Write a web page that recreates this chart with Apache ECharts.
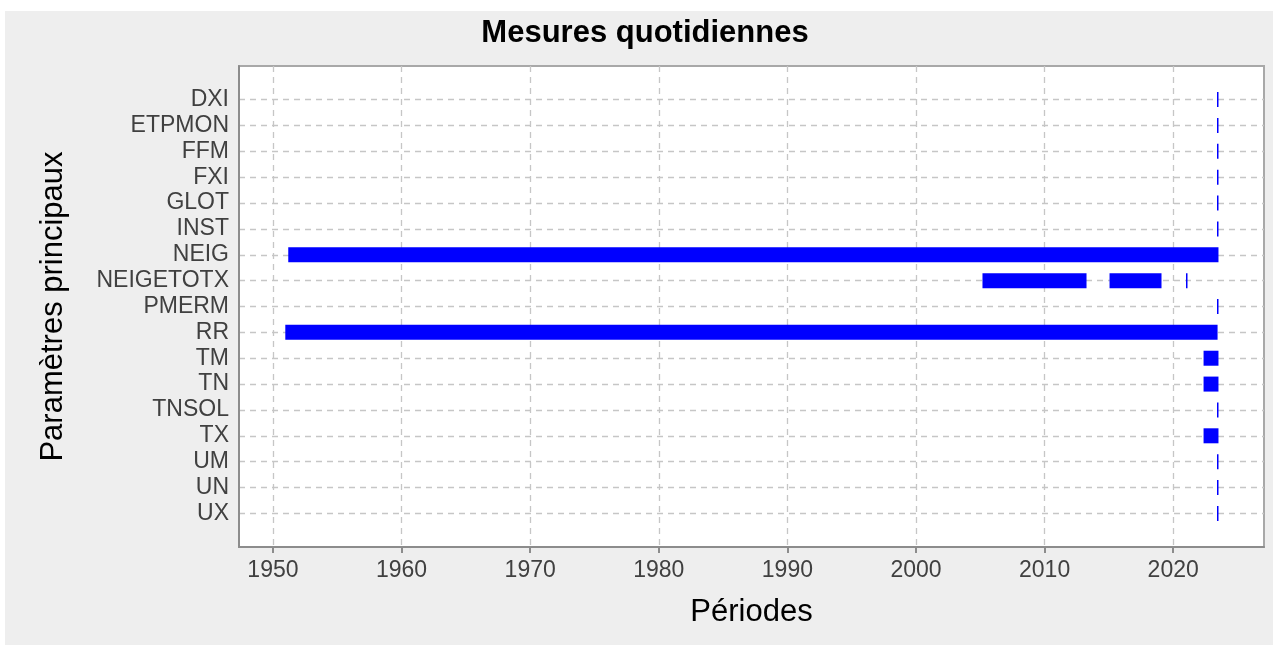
<!DOCTYPE html>
<html>
<head>
<meta charset="utf-8">
<script src="https://cdn.jsdelivr.net/npm/echarts@6/dist/echarts.min.js"></script>
<style>
html,body{margin:0;padding:0;background:#fff;}
#chart{width:1273px;height:645px;}
</style>
</head>
<body>
<div id="chart"></div>
<script>
// Category labels (top to bottom)
const categories = ['DXI','ETPMON','FFM','FXI','GLOT','INST','NEIG','NEIGETOTX','PMERM','RR','TM','TN','TNSOL','TX','UM','UN','UX'];
// Measurement periods: row index, start year, end year (decimal years)
const segRow   = [0, 1, 2, 3, 4, 5, 6, 7, 7, 7, 8, 9, 10, 11, 12, 13, 14, 15, 16];
const segStart = [2023.45, 2023.45, 2023.45, 2023.45, 2023.45, 2023.45, 1951.19, 2005.17, 2015.05, 2021.04, 2023.45, 1950.96, 2022.36, 2022.36, 2023.45, 2022.36, 2023.45, 2023.45, 2023.45];
const segEnd   = [2023.49, 2023.49, 2023.49, 2023.49, 2023.49, 2023.49, 2023.52, 2013.26, 2019.09, 2021.08, 2023.49, 2023.45, 2023.52, 2023.52, 2023.49, 2023.52, 2023.49, 2023.49, 2023.49];
// Tick labels of the time axis
const xTicks = [1950, 1960, 1970, 1980, 1990, 2000, 2010, 2020];

const rowTicks = categories.map((c, i) => i);
const data = segRow.map((r, i) => [r, segStart[i], segEnd[i]]);

const FONT = '"Liberation Sans", Arial, sans-serif';
const chart = echarts.init(document.getElementById('chart'));
chart.setOption({
  backgroundColor: '#ffffff',
  animation: false,
  graphic: [
    { type: 'rect', z: -100, shape: { x: 5, y: 11, width: 1268, height: 634 }, style: { fill: '#eeeeee' } },
    { type: 'text', x: 645, y: 33, style: { text: 'Mesures quotidiennes', textAlign: 'center', textVerticalAlign: 'middle', font: 'bold 31px ' + FONT, fill: '#000' } }
  ],
  grid: { left: 239, right: 9, top: 66, bottom: 98, show: true, backgroundColor: '#ffffff', borderColor: '#a8a8a8', borderWidth: 2 },
  xAxis: {
    type: 'value', min: 1947.36, max: 2027.06,
    name: 'Périodes', nameLocation: 'middle', nameGap: 50,
    nameTextStyle: { fontFamily: FONT, fontSize: 31, color: '#000' },
    axisLine: { show: true, onZero: false, lineStyle: { color: '#8c8c8c', width: 2 } },
    axisTick: { show: true, customValues: xTicks, length: 6, lineStyle: { color: '#8c8c8c', width: 2 } },
    axisLabel: { customValues: xTicks, margin: 12, fontFamily: FONT, fontSize: 23, color: '#404040', formatter: v => String(v) },
    splitLine: { show: true, lineStyle: { color: '#c6c6c6', width: 1.3, type: [6, 5] } }
  },
  yAxis: {
    type: 'value', inverse: true, min: -1.3, max: 17.3,
    name: 'Paramètres principaux', nameLocation: 'middle', nameGap: 170, nameRotate: 90,
    nameTextStyle: { fontFamily: FONT, fontSize: 31, color: '#000' },
    axisLine: { show: true, onZero: false, lineStyle: { color: '#8c8c8c', width: 2 } },
    axisTick: { show: false, customValues: rowTicks },
    axisLabel: { customValues: rowTicks, margin: 10, fontFamily: FONT, fontSize: 23, color: '#404040', formatter: v => categories[Math.round(v)] || '' },
    splitLine: { show: true, lineStyle: { color: '#c6c6c6', width: 1.3, type: [6, 5] } }
  },
  series: [{
    type: 'custom',
    data: data,
    encode: { x: [1, 2], y: 0 },
    renderItem: function (params, api) {
      const row = api.value(0), s = api.value(1), e = api.value(2);
      const p0 = api.coord([s, row]);
      const p1 = api.coord([e, row]);
      const h = Math.abs(api.size([0, 1])[1]) * 0.58;
      let x = p0[0], w = p1[0] - p0[0];
      if (w < 1.5) { x = Math.floor((p0[0] + p1[0]) / 2); w = 1.5; }
      return { type: 'rect', shape: { x: x, y: p0[1] - h / 2, width: w, height: h }, style: { fill: '#0000ff' } };
    }
  }]
});
</script>
</body>
</html>
